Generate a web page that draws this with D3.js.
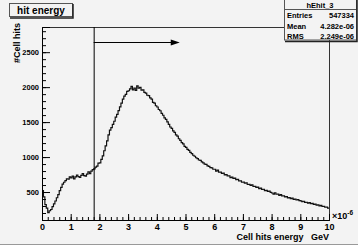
<!DOCTYPE html>
<html>
<head>
<meta charset="utf-8">
<script src="https://cdn.jsdelivr.net/npm/d3@7"></script>
<style>
  body { margin: 0; background: #fff; }
  svg { display: block; }
  text { font-family: "Liberation Sans", Arial, sans-serif; font-weight: bold; }
</style>
</head>
<body>
<svg class="hist-chart"></svg>
<script>
// histogram bins (width 0.05e-6 GeV) over 0 .. 10
const binEdges = [0, 10];
const counts = [
  520, 430, 320, 270, 205, 232, 250, 290, 330, 372,
  418, 462, 520, 566, 612, 640, 662, 690, 684, 718,
  702, 728, 688, 716, 742, 720, 708, 738, 764, 736,
  728, 756, 790, 764, 798, 820, 832, 856, 870, 912,
  918, 968, 1018, 1090, 1160, 1232, 1318, 1384, 1420, 1468,
  1512, 1570, 1610, 1664, 1718, 1770, 1830, 1872, 1896, 1940,
  1948, 1976, 2010, 1962, 1988, 1952, 2018, 1984, 1996, 1958,
  1962, 1926, 1914, 1884, 1878, 1846, 1830, 1782, 1770, 1734,
  1716, 1680, 1662, 1626, 1598, 1560, 1540, 1502, 1468, 1430,
  1410, 1374, 1352, 1316, 1300, 1262, 1240, 1206, 1190, 1154,
  1138, 1110, 1096, 1068, 1050, 1026, 1012, 990, 978, 958,
  952, 930, 918, 898, 896, 874, 868, 850, 844, 826,
  826, 800, 812, 784, 786, 766, 770, 744, 748, 730,
  732, 706, 714, 694, 698, 676, 680, 660, 660, 640,
  642, 626, 630, 608, 610, 596, 602, 580, 582, 566,
  570, 550, 556, 538, 540, 520, 524, 508, 512, 494,
  486, 470, 490, 468, 470, 452, 462, 444, 446, 432,
  434, 416, 420, 404, 412, 396, 398, 386, 392, 376,
  374, 362, 368, 352, 354, 340, 348, 334, 338, 324,
  328, 312, 316, 302, 308, 294, 296, 282, 284, 270
];
const yRange = [100, 2860];
const xTicks = [0, 1, 2, 3, 4, 5, 6, 7, 8, 9, 10];
const yTicks = [500, 1000, 1500, 2000, 2500];
const cutValue = [1.8];
const arrowSpan = [1.8, 4.8];
const arrowLevel = [2640];
const statNames = ["Entries", "Mean", "RMS"];
const statValues = ["547334", "4.282e-06", "2.249e-06"];

const W = 358, H = 249;
const margin = { top: 27, right: 29, bottom: 29, left: 42 };
const width = W - margin.left - margin.right;
const height = 220 - margin.top;

const svg = d3.select("svg.hist-chart").attr("width", W).attr("height", H);

// canvas background
svg.append("rect").attr("width", W).attr("height", 244).attr("fill", "#f3f3f3");
svg.append("line").attr("x1", 0).attr("x2", W).attr("y1", 244.5).attr("y2", 244.5)
  .attr("stroke", "#999").attr("stroke-width", 1);

const x = d3.scaleLinear().domain(binEdges).range([0, width]);
const y = d3.scaleLinear().domain(yRange).range([height, 0]);

const g = svg.append("g").attr("transform", `translate(${margin.left},${margin.top})`);

// frame
g.append("rect").attr("x", 0.5).attr("y", 0.5).attr("width", width).attr("height", height)
  .attr("fill", "none").attr("stroke", "#333").attr("stroke-width", 1);

// histogram as step line
const bw = (binEdges[1] - binEdges[0]) / counts.length;
const steps = [];
counts.forEach((c, i) => {
  steps.push([binEdges[0] + i * bw, c]);
  steps.push([binEdges[0] + (i + 1) * bw, c]);
});
g.append("path")
  .datum(steps)
  .attr("fill", "none")
  .attr("stroke", "#111")
  .attr("stroke-width", 1.2)
  .attr("d", d3.line().x(d => x(d[0])).y(d => y(d[1])));

// x axis (ticks inside)
const xMinor = d3.range(0, 10.001, 0.2);
g.append("g")
  .attr("transform", `translate(0,${height})`)
  .call(d3.axisBottom(x).tickValues(xMinor).tickSize(-3).tickFormat(""))
  .call(a => a.select(".domain").remove());
const xAxis = g.append("g")
  .attr("transform", `translate(0,${height})`)
  .call(d3.axisBottom(x).tickValues(xTicks).tickSize(-6).tickPadding(4).tickFormat(d3.format("d")));
xAxis.selectAll("text").attr("font-size", 9).attr("fill", "#000");

// y axis (ticks inside)
const yMinor = d3.range(100, 2860, 100);
g.append("g")
  .call(d3.axisLeft(y).tickValues(yMinor).tickSize(-4).tickFormat(""))
  .call(a => a.select(".domain").remove());
const yAxis = g.append("g")
  .call(d3.axisLeft(y).tickValues(yTicks).tickSize(-8).tickPadding(3).tickFormat(d3.format("d")));
yAxis.selectAll("text").attr("font-size", 7.5).attr("fill", "#000");
g.selectAll(".tick line").attr("stroke", "#000");

// cut line + arrow
g.append("line")
  .attr("x1", x(cutValue[0]) + 0.5).attr("x2", x(cutValue[0]) + 0.5)
  .attr("y1", 0).attr("y2", height)
  .attr("stroke", "#000").attr("stroke-width", 1);
const ay = Math.round(y(arrowLevel[0])) + 0.5;
g.append("line")
  .attr("x1", x(arrowSpan[0])).attr("x2", x(arrowSpan[1]) - 7)
  .attr("y1", ay).attr("y2", ay)
  .attr("stroke", "#000").attr("stroke-width", 1);
const tip = x(arrowSpan[1]);
g.append("path")
  .attr("d", `M${tip},${ay} L${tip - 9},${ay - 3} L${tip - 9},${ay + 3} Z`)
  .attr("fill", "#000");

// axis titles
svg.append("text")
  .attr("x", margin.left + width).attr("y", 240)
  .attr("text-anchor", "end").attr("font-size", 9)
  .style("white-space", "pre")
  .text("Cell hits energy   GeV");
const mult = svg.append("text")
  .attr("x", margin.left + width + 3).attr("y", 219)
  .attr("font-size", 9);
mult.append("tspan").text("×10");
mult.append("tspan").attr("dy", -4).attr("font-size", 6.5).text("-6");

svg.append("text")
  .attr("transform", `translate(20,${margin.top - 4}) rotate(-90)`)
  .attr("text-anchor", "end").attr("font-size", 9)
  .text("#Cell hits");

// title box
svg.append("rect").attr("x", 9.5).attr("y", 3.5).attr("width", 63).attr("height", 13)
  .attr("fill", "#f3f3f3").attr("stroke", "#555");
svg.append("path").attr("d", "M73,4 V18 H10").attr("fill", "none").attr("stroke", "#222").attr("stroke-width", 1.5);
svg.append("text").attr("x", 41).attr("y", 14).attr("text-anchor", "middle")
  .attr("font-size", 10).text("hit energy");

// stats box
const sx = 284, sw = 72, sh = 41;
svg.append("rect").attr("x", sx + 0.5).attr("y", -1).attr("width", sw).attr("height", sh)
  .attr("fill", "#f3f3f3").attr("stroke", "#555");
svg.append("path").attr("d", `M${sx + sw + 1},0 V${sh + 0.5} H${sx + 1}`)
  .attr("fill", "none").attr("stroke", "#222").attr("stroke-width", 1.5);
svg.append("line").attr("x1", sx).attr("x2", sx + sw).attr("y1", 9.5).attr("y2", 9.5)
  .attr("stroke", "#555");
svg.append("text").attr("x", sx + sw / 2).attr("y", 7.5).attr("text-anchor", "middle")
  .attr("font-size", 7.5).text("hEhit_3");
statNames.forEach((n, i) => {
  const ty = 18 + i * 10.5;
  svg.append("text").attr("x", sx + 3).attr("y", ty).attr("font-size", 7.5).text(n);
  svg.append("text").attr("x", sx + sw - 2).attr("y", ty).attr("text-anchor", "end")
    .attr("font-size", 7.5).text(statValues[i]);
});
</script>
</body>
</html>
